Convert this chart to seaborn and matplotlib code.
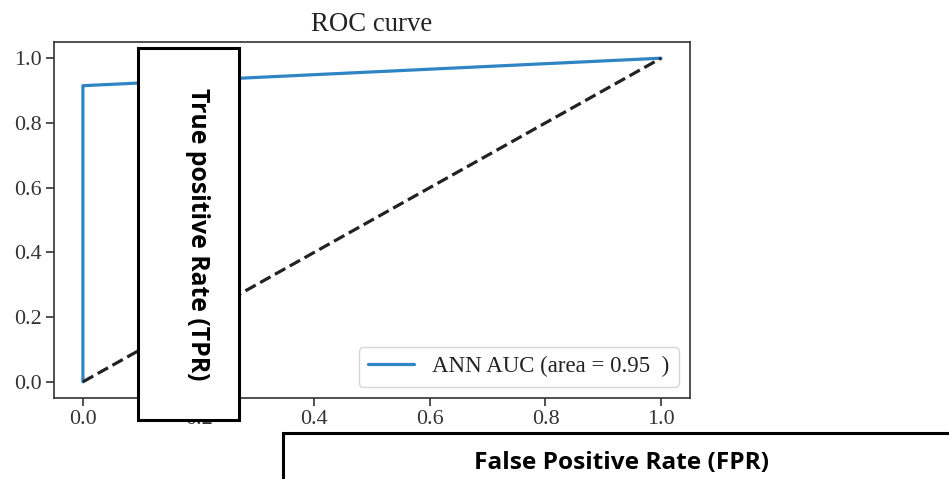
import matplotlib
matplotlib.use("Agg")
import matplotlib.pyplot as plt
import numpy as np
import pandas as pd
import seaborn as sns
from matplotlib.patches import Rectangle

# ROC points
fpr = [0.0, 0.0, 1.0]
tpr = [0.0, 0.915, 1.0]
chance = [0.0, 1.0]
auc_label = "ANN AUC (area = 0.95  )"
xticks = [0.0, 0.2, 0.4, 0.6, 0.8, 1.0]
yticks = [0.0, 0.2, 0.4, 0.6, 0.8, 1.0]

sns.set_style("ticks")
plt.rcParams["font.family"] = ["Liberation Serif", "DejaVu Serif"]

roc = pd.DataFrame({"fpr": fpr, "tpr": tpr})

fig = plt.figure(figsize=(9.49, 4.79), dpi=100)
ax = fig.add_axes([54 / 949, 1 - 398 / 479, 636 / 949, 356 / 479])

sns.lineplot(data=roc, x="fpr", y="tpr", sort=False, estimator=None,
             color="#2f84c4", linewidth=2.3, label=auc_label, ax=ax)
ax.plot(chance, chance, color="#222222", linestyle="--", linewidth=2.3)

ax.set_xticks(xticks)
ax.set_yticks(yticks)
ax.tick_params(labelsize=15.8, length=5.5, width=1.2, colors="#333333")
for s in ax.spines.values():
    s.set_linewidth(1.2)
    s.set_color("#333333")
    s.set_visible(True)
ax.set_xlabel("")
ax.set_ylabel("")
ax.set_title("ROC curve", fontsize=19.3, color="#222222", pad=8)
ax.legend(loc="lower right", fontsize=16.5, frameon=True, fancybox=True,
          edgecolor="#cccccc", handlelength=2.0, borderpad=0.4,
          labelcolor="#222222")

# overlaid axis-label boxes
fig.add_artist(Rectangle((138 / 949, 1 - 420 / 479), 101 / 949, 372 / 479,
                         transform=fig.transFigure, facecolor="white",
                         edgecolor="black", linewidth=2.2, zorder=10))
fig.text(197 / 949, 1 - 234 / 479, "True positive Rate (TPR)", rotation=-90,
         ha="center", va="center", fontsize=17.8, fontweight="bold",
         color="black", family=["Open Sans", "DejaVu Sans"], zorder=11)

fig.add_artist(Rectangle((283 / 949, -0.1), 700 / 949, 0.1 + 46 / 479,
                         transform=fig.transFigure, facecolor="white",
                         edgecolor="black", linewidth=2.2, zorder=10))
fig.text(622 / 949, 1 - 463 / 479, "False Positive Rate (FPR)",
         ha="center", va="center", fontsize=17.6, fontweight="bold",
         color="black", family=["Open Sans", "DejaVu Sans"], zorder=11)

fig.savefig("out.png", dpi=100)
